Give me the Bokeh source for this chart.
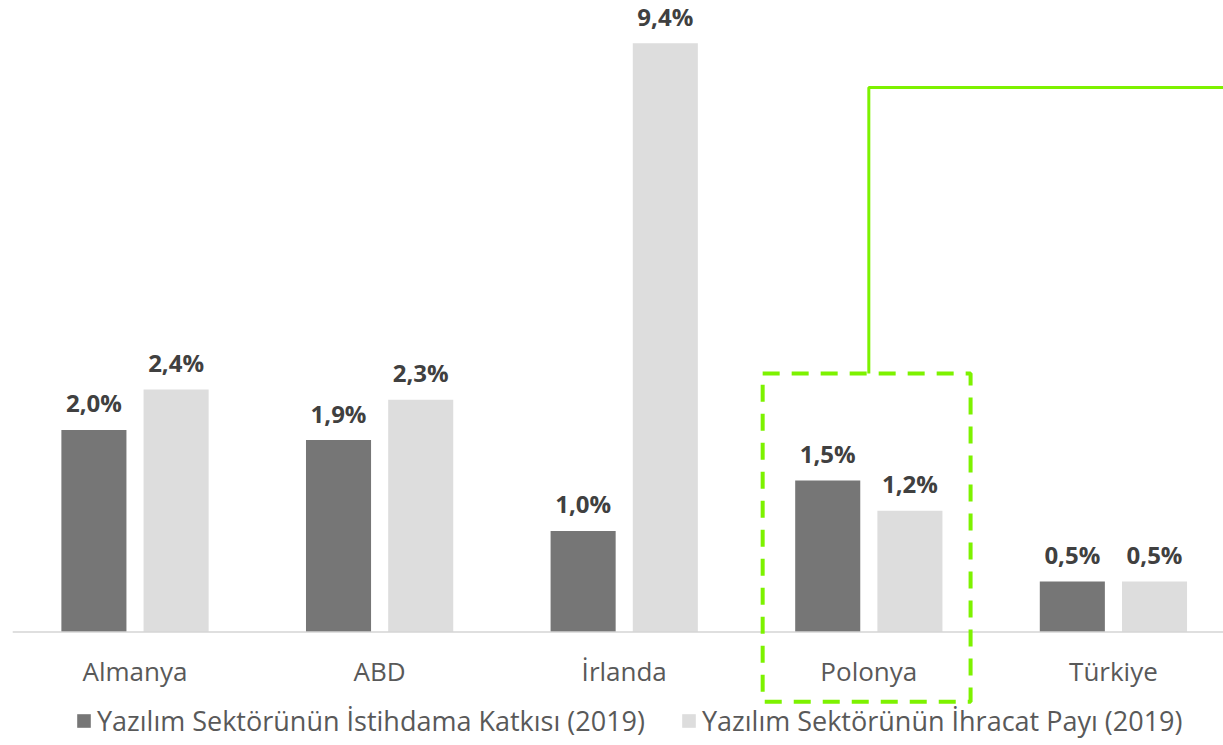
from bokeh.plotting import figure
from bokeh.models import ColumnDataSource, Legend, LegendItem, Range1d
from bokeh.core.properties import value
from bokeh.embed import file_html
from bokeh.resources import INLINE

# ---- data ----
countries = ["Almanya", "ABD", "İrlanda", "Polonya", "Türkiye"]
istihdam = [2.0, 1.9, 1.0, 1.5, 0.5]     # Yazılım Sektörünün İstihdama Katkısı (2019), %
ihracat = [2.4, 2.3, 9.4, 1.2, 0.5]      # Yazılım Sektörünün İhracat Payı (2019), %
series_names = ["Yazılım Sektörünün İstihdama Katkısı (2019)",
                "Yazılım Sektörünün İhracat Payı (2019)"]
highlight = "Polonya"

# ---- style ----
FONT = value("Open Sans")
DARK = "#767676"
LIGHT = "#DDDDDD"
GREEN = "#7DF200"
CAP = 5.83          # very tall bars are drawn truncated, as in the original
BAR_W = 0.266
OFF = 0.168


def fmt(v):
    return f"{v:.1f}".replace(".", ",") + "%"


xs = list(range(len(countries)))
src = ColumnDataSource(dict(
    x_d=[x - OFF for x in xs],
    x_l=[x + OFF for x in xs],
    h_d=[min(v, CAP) for v in istihdam],
    h_l=[min(v, CAP) for v in ihracat],
    t_d=[fmt(v) for v in istihdam],
    t_l=[fmt(v) for v in ihracat],
    x=xs,
    zero=[0] * len(xs),
    name=countries,
))

p = figure(width=1223, height=745, output_backend="svg", toolbar_location=None,
           x_range=Range1d(-0.5499, 4.450), y_range=Range1d(-1.1238, 6.2525),
           min_border=0, min_border_left=0, min_border_right=0,
           min_border_top=0, min_border_bottom=0)
p.axis.visible = False
p.grid.visible = False
p.outline_line_color = None
p.background_fill_color = "white"

r_d = p.vbar(x="x_d", top="h_d", width=BAR_W, source=src, fill_color=DARK, line_color=None)
r_l = p.vbar(x="x_l", top="h_l", width=BAR_W, source=src, fill_color=LIGHT, line_color=None)

# baseline
p.segment(x0=[-0.5], x1=[4.5], y0=[0], y1=[0], line_color="#D4D4D4", line_width=1.5)

# value labels
for xc, yc, tc in (("x_d", "h_d", "t_d"), ("x_l", "h_l", "t_l")):
    p.text(x=xc, y=yc, text=tc, source=src, text_align="center",
           text_baseline="alphabetic", y_offset=-27, text_font=FONT,
           text_font_style="bold", text_font_size="24px", text_color="#404040")

# category labels
p.text(x="x", y="zero", text="name", source=src, text_align="center",
       text_baseline="alphabetic", y_offset=39, text_font=FONT,
       text_font_size="26px", text_color="#595959")

# highlight box around Polonya and connector line
hi = countries.index(highlight)
p.quad(left=[hi - 0.434], right=[hi + 0.416], top=[2.56], bottom=[-0.69],
       fill_alpha=0, line_color=GREEN, line_width=4, line_dash="17 12")
p.line(x=[hi, hi, 4.6], y=[2.56, 5.39, 5.39], line_color=GREEN, line_width=3)

legend = Legend(items=[LegendItem(label=series_names[0], renderers=[r_d]),
                       LegendItem(label=series_names[1], renderers=[r_l])],
                orientation="horizontal", location=(75, 6),
                glyph_width=17, glyph_height=17, label_standoff=5, spacing=35,
                padding=0, margin=0, border_line_color=None,
                background_fill_alpha=0,
                label_text_font="Open Sans", label_text_font_size="27px",
                label_text_color="#595959")
p.add_layout(legend)

open("out.html", "w").write(file_html(p, INLINE))
